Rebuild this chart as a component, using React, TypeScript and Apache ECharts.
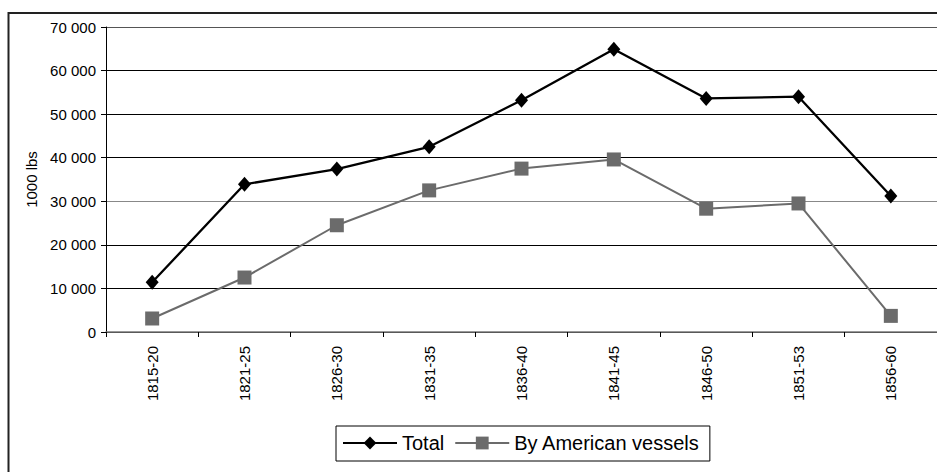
import React, { useEffect, useRef } from "react";
import * as echarts from "echarts";

// Periods and quantities (1000 lbs)
const periods = ["1815-20", "1821-25", "1826-30", "1831-35", "1836-40", "1841-45", "1846-50", "1851-53", "1856-60"];
const totalValues = [11400, 33900, 37400, 42500, 53200, 64900, 53600, 54000, 31200];
const americanValues = [3100, 12500, 24500, 32500, 37500, 39600, 28300, 29500, 3700];
const seriesNames = ["Total", "By American vessels"];
const yAxisTitle = "1000 lbs";

const FONT = "'Liberation Sans', Arial, sans-serif";

const formatThousands = (v: number) => String(v).replace(/\B(?=(\d{3})+(?!\d))/g, " ");

export default function App() {
  const ref = useRef<HTMLDivElement>(null);

  useEffect(() => {
    if (!ref.current) return;
    const chart = echarts.init(ref.current, null, { renderer: "svg" });
    chart.setOption({
      animation: false,
      backgroundColor: "#fff",
      textStyle: { fontFamily: FONT, color: "#000" },
      graphic: [
        {
          type: "rect",
          shape: { x: 8.5, y: 13, width: 1000, height: 1000 },
          style: { fill: "none", stroke: "#222", lineWidth: 2 },
          silent: true,
          z: -1,
        },
      ],
      grid: { left: 106, top: 27, right: -6, bottom: 140, containLabel: false },
      legend: {
        data: seriesNames,
        left: 336,
        top: 426,
        orient: "horizontal",
        itemWidth: 54,
        itemHeight: 16,
        itemGap: 10,
        padding: [7, 10, 8, 6],
        borderColor: "#000",
        borderWidth: 1,
        textStyle: { fontFamily: FONT, fontSize: 20, color: "#000" },
      },
      xAxis: {
        type: "category",
        data: periods,
        boundaryGap: true,
        axisLine: { show: true, lineStyle: { color: "#777", width: 1.5 } },
        axisTick: { show: true, length: 5, inside: false, lineStyle: { color: "#000" } },
        axisLabel: {
          rotate: 90,
          interval: 0,
          margin: 14,
          fontFamily: FONT,
          fontSize: 15,
          color: "#000",
        },
        splitLine: { show: false },
      },
      yAxis: {
        type: "value",
        min: 0,
        max: 70000,
        interval: 10000,
        name: yAxisTitle,
        nameLocation: "middle",
        nameRotate: 90,
        nameGap: 66,
        nameTextStyle: { fontFamily: FONT, fontSize: 15, color: "#000" },
        axisLine: { show: true, lineStyle: { color: "#000", width: 1 } },
        axisTick: { show: true, length: 5, lineStyle: { color: "#000" } },
        axisLabel: {
          margin: 10,
          fontFamily: FONT,
          fontSize: 15,
          color: "#000",
          formatter: (v: number) => formatThousands(v),
        },
        splitLine: {
          show: true,
          lineStyle: {
            color: ["#000", "#000", "#000", "#888", "#000", "#000", "#000", "#555"],
            width: 1,
          },
        },
      },
      series: [
        {
          name: seriesNames[0],
          type: "line",
          data: totalValues,
          symbol: "diamond",
          symbolSize: [13, 15],
          lineStyle: { color: "#000", width: 2.3 },
          itemStyle: { color: "#000" },
          z: 3,
        },
        {
          name: seriesNames[1],
          type: "line",
          data: americanValues,
          symbol: "rect",
          symbolSize: 14,
          lineStyle: { color: "#6b6b6b", width: 2 },
          itemStyle: { color: "#6b6b6b" },
          z: 2,
        },
      ],
    });
    return () => chart.dispose();
  }, []);

  return (
    <div
      ref={ref}
      style={{ position: "fixed", left: 0, top: 0, width: 937, height: 472, background: "#fff" }}
    />
  );
}
